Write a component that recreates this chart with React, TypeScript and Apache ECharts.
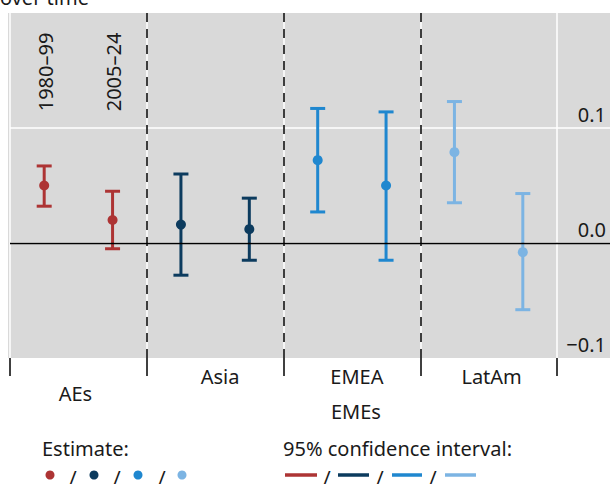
import React, { useEffect, useRef } from 'react';
import * as echarts from 'echarts';

const groups = ['AEs', 'Asia', 'EMEA', 'LatAm'];
const periods = ['1980–99', '2005–24'];
const estimates = [0.050, 0.020, 0.016, 0.012, 0.072, 0.050, 0.079, -0.008];
const lower = [0.032, -0.005, -0.028, -0.015, 0.027, -0.015, 0.035, -0.058];
const upper = [0.067, 0.045, 0.060, 0.039, 0.117, 0.114, 0.123, 0.043];
const groupColors = ['#ad3434', '#0c3b5e', '#1f87cf', '#7cb4e3'];
const superGroupLabel = 'EMEs';
const titleText = 'over time';
const estimateLabel = 'Estimate:';
const ciLabel = '95% confidence interval:';

const FONT = '"Noto Sans", "Open Sans", sans-serif';
const TXT = '#1a1a1a';
const labelPads = [[17, 6, 0, 0], [0, 0, 0, 10], [0, 0, 0, 10], [0, 0, 0, 6]];

export default function App() {
  const ref = useRef<HTMLDivElement>(null);
  useEffect(() => {
    if (!ref.current) return;
    const chart = echarts.init(ref.current, undefined, { renderer: 'svg' });
    const pts = estimates.map((v, i) => [i + 0.5, v, Math.floor(i / 2)]);
    const bars = estimates.map((_, i) => [i + 0.5, lower[i], upper[i], Math.floor(i / 2)]);
    const fmt = (v: number) => {
      if (Math.abs(v) < 1e-9) return '0.0';
      return (v < 0 ? '−' : '') + Math.abs(v).toFixed(1);
    };
    chart.setOption({
      animation: false,
      textStyle: { fontFamily: FONT },
      grid: [
        { left: 10, right: 0, top: 13, bottom: 126 },
        { left: 10, right: 53, top: 13, bottom: 126 },
      ],
      xAxis: [
        { gridIndex: 0, type: 'value', min: 0, max: 1, show: false },
        {
          gridIndex: 1, type: 'value', min: 0, max: 8, interval: 2, position: 'bottom',
          axisLine: { show: false, onZero: false },
          axisTick: { show: true, length: 18, lineStyle: { color: '#000', width: 1.5 } },
          axisLabel: { show: false },
          splitLine: { show: true, lineStyle: { color: '#ffffff', width: 1.5 } },
        },
        {
          gridIndex: 1, type: 'category', position: 'bottom', offset: 0,
          data: groups.map((g, i) => ({ value: g, textStyle: { padding: labelPads[i] } })),
          axisLine: { show: false, onZero: false }, axisTick: { show: false }, splitLine: { show: false },
          axisLabel: { margin: 8, fontSize: 20, color: TXT, fontFamily: FONT },
        },
      ],
      yAxis: [
        {
          gridIndex: 0, type: 'value', min: -0.1, max: 0.2, interval: 0.1, position: 'right',
          axisLine: { show: false }, axisTick: { show: false },
          splitLine: { show: true, showMinLine: false, showMaxLine: false, lineStyle: { color: '#ffffff', width: 1.5 } },
          axisLabel: {
            inside: true, align: 'right', verticalAlign: 'bottom', margin: 4, showMaxLabel: false,
            fontSize: 20, color: TXT, fontFamily: FONT, padding: [0, 0, 4, 0], formatter: fmt,
          },
        },
        { gridIndex: 1, type: 'value', min: -0.1, max: 0.2, show: false },
      ],
      series: [
        {
          type: 'line', xAxisIndex: 0, yAxisIndex: 0, data: [], silent: true,
          markLine: {
            silent: true, symbol: ['none', 'none'], label: { show: false },
            lineStyle: { color: '#000', width: 1.3, type: 'solid' },
            data: [{ yAxis: 0 }],
          },
        },
        {
          type: 'custom', xAxisIndex: 1, yAxisIndex: 1, data: bars, silent: true,
          encode: { x: 0, y: [1, 2] },
          renderItem: (params: any, api: any) => {
            const x = api.value(0);
            const lo = api.coord([x, api.value(1)]);
            const hi = api.coord([x, api.value(2)]);
            const c = groupColors[api.value(3)];
            const w = 7.5;
            const st = { stroke: c, lineWidth: 3 };
            return {
              type: 'group',
              children: [
                { type: 'line', shape: { x1: lo[0], y1: lo[1], x2: hi[0], y2: hi[1] }, style: st },
                { type: 'line', shape: { x1: lo[0] - w, y1: lo[1], x2: lo[0] + w, y2: lo[1] }, style: st },
                { type: 'line', shape: { x1: hi[0] - w, y1: hi[1], x2: hi[0] + w, y2: hi[1] }, style: st },
              ],
            };
          },
          markLine: {
            silent: true, symbol: ['none', 'none'], label: { show: false },
            lineStyle: { color: '#000', width: 1.5, type: [9, 7] },
            data: [{ xAxis: 2 }, { xAxis: 4 }, { xAxis: 6 }],
          },
        },
        {
          type: 'scatter', xAxisIndex: 1, yAxisIndex: 1, data: pts, symbolSize: 10, silent: true,
          itemStyle: { color: (p: any) => groupColors[p.data[2]], opacity: 1 },
          z: 5,
        },
      ],
    });

    const p0 = chart.convertToPixel({ xAxisIndex: 1, yAxisIndex: 1 }, [0.5, 0]) as number[];
    const p1 = chart.convertToPixel({ xAxisIndex: 1, yAxisIndex: 1 }, [1.5, 0]) as number[];
    const pe = chart.convertToPixel({ xAxisIndex: 1, yAxisIndex: 1 }, [5, 0]) as number[];
    const font = `20px ${FONT}`;
    const dotXs = [50, 94, 138, 182];
    const slashDotXs = [73, 117, 162];
    const lineXs = [[285, 317], [338, 369], [392, 422], [445, 476]];
    const slashLineXs = [327, 380, 433];
    const els: any[] = [
      { type: 'rect', z: -100, silent: true, shape: { x: 8, y: 13, width: 602, height: 345 }, style: { fill: '#d9d9d9' } },
      { type: 'text', x: 0, y: 7, style: { text: titleText, font, fill: TXT, align: 'left', verticalAlign: 'bottom' } },
      { type: 'text', x: p0[0] + 1, y: 72, rotation: Math.PI / 2, style: { text: periods[0], font, fill: TXT, align: 'center', verticalAlign: 'middle' } },
      { type: 'text', x: p1[0] + 1, y: 72, rotation: Math.PI / 2, style: { text: periods[1], font, fill: TXT, align: 'center', verticalAlign: 'middle' } },
      { type: 'text', x: pe[0] + 4, y: 411, style: { text: superGroupLabel, font, fill: TXT, align: 'center', verticalAlign: 'middle' } },
      { type: 'text', x: 42, y: 448, style: { text: estimateLabel, font, fill: TXT, align: 'left', verticalAlign: 'middle' } },
      { type: 'text', x: 283, y: 448, style: { text: ciLabel, font, fill: TXT, align: 'left', verticalAlign: 'middle' } },
    ];
    dotXs.forEach((x, i) => els.push({ type: 'circle', shape: { cx: x, cy: 475, r: 4.5 }, style: { fill: groupColors[i] } }));
    slashDotXs.forEach((x) => els.push({ type: 'text', x, y: 477, style: { text: '/', font, fill: TXT, align: 'center', verticalAlign: 'middle' } }));
    lineXs.forEach((xs, i) => els.push({ type: 'line', shape: { x1: xs[0], y1: 475, x2: xs[1], y2: 475 }, style: { stroke: groupColors[i], lineWidth: 3.5 } }));
    slashLineXs.forEach((x) => els.push({ type: 'text', x, y: 477, style: { text: '/', font, fill: TXT, align: 'center', verticalAlign: 'middle' } }));
    chart.setOption({ graphic: { elements: els } });

    return () => chart.dispose();
  }, []);
  return <div ref={ref} style={{ width: 610, height: 484, position: 'absolute', left: 0, top: 0 }} />;
}
